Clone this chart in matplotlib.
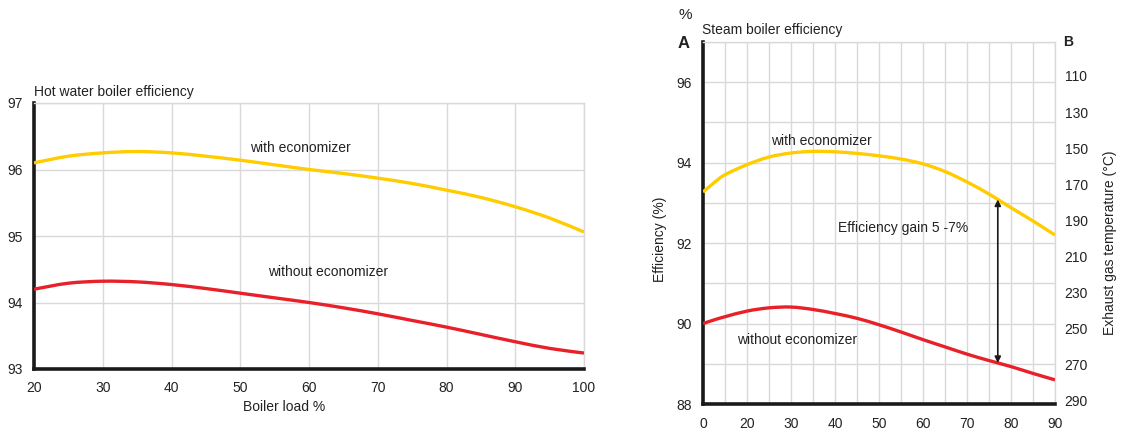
import numpy as np
import matplotlib
matplotlib.use("Agg")
import matplotlib.pyplot as plt
from matplotlib.path import Path
from matplotlib.patches import PathPatch
from matplotlib.transforms import IdentityTransform

plt.rcParams['font.family'] = ['Liberation Sans', 'DejaVu Sans']
plt.rcParams['font.size'] = 10

# ---- Hot water boiler: efficiency vs boiler load ----
hw_load = [20, 25, 30, 35, 40, 45, 50, 55, 60, 65, 70, 75, 80, 85, 90, 95, 100]
hw_with_eco = [96.10, 96.20, 96.25, 96.27, 96.25, 96.20, 96.14, 96.07, 96.00,
               95.94, 95.87, 95.79, 95.69, 95.58, 95.44, 95.27, 95.06]
hw_without_eco = [94.20, 94.29, 94.32, 94.31, 94.27, 94.21, 94.14, 94.07, 94.00,
                  93.92, 93.83, 93.73, 93.63, 93.52, 93.41, 93.31, 93.24]
hw_xticks = [20, 30, 40, 50, 60, 70, 80, 90, 100]
hw_yticks = [93, 94, 95, 96, 97]

# ---- Steam boiler: efficiency vs load, with exhaust gas temperature scale ----
st_load = [0, 5, 10, 20, 25, 30, 35, 40, 45, 50, 55, 60, 65, 70, 75, 80, 85, 90]
st_with_eco = [93.27, 93.50, 93.70, 93.95, 94.14, 94.24, 94.28, 94.27, 94.23,
               94.17, 94.09, 93.97, 93.78, 93.52, 93.22, 92.88, 92.55, 92.20]
st_without_eco = [90.00, 90.09, 90.17, 90.31, 90.39, 90.41, 90.35, 90.25, 90.13,
                  89.97, 89.79, 89.60, 89.42, 89.24, 89.08, 88.93, 88.76, 88.60]
st_xticks = [0, 20, 30, 40, 50, 60, 70, 80, 90]
st_xgrid = [10, 25, 35, 45, 55, 65, 75, 85]
st_yticks = [88, 90, 92, 94, 96]
exhaust_temps = [110, 130, 150, 170, 190, 210, 230, 250, 270, 290]
gain_load = 77

YELLOW = '#FFCC00'
RED = '#E8202A'
GRID = '#d9d9d9'
TXT = '#222222'

fig = plt.figure(figsize=(11.22, 4.32), dpi=100)


def style_axes(ax):
    for side in ('left', 'bottom'):
        ax.spines[side].set_color('#1a1a1a')
        ax.spines[side].set_linewidth(2.6)
    for side in ('top', 'right'):
        ax.spines[side].set_color(GRID)
        ax.spines[side].set_linewidth(1.0)
    ax.tick_params(which='both', length=0, colors=TXT, labelsize=10)
    ax.grid(True, which='both', color=GRID, linewidth=1.0)
    ax.set_axisbelow(True)


def smooth_line(ax, x, y, color, lw=2.4):
    """Draw a smooth curve through the points (Catmull-Rom as cubic Beziers)."""
    pts = ax.transData.transform(np.column_stack([x, y]))
    ext = np.vstack([pts[0], pts, pts[-1]])
    verts = [pts[0]]
    codes = [Path.MOVETO]
    for i in range(1, len(ext) - 2):
        p0, p1, p2, p3 = ext[i - 1], ext[i], ext[i + 1], ext[i + 2]
        verts += [p1 + (p2 - p0) / 6.0, p2 - (p3 - p1) / 6.0, p2]
        codes += [Path.CURVE4] * 3
    patch = PathPatch(Path(verts, codes), fill=False, edgecolor=color, lw=lw,
                      transform=IdentityTransform(), capstyle='butt', zorder=3)
    patch.set_clip_box(ax.bbox)
    ax.add_artist(patch)


# Left panel
ax1 = fig.add_axes([34 / 1122, 1 - 369 / 432, 550 / 1122, 266 / 432])
ax1.set_xlim(20, 100)
ax1.set_ylim(93, 97)
ax1.set_xticks(hw_xticks)
ax1.set_yticks(hw_yticks)
style_axes(ax1)
ax1.tick_params(axis='x', pad=9)
ax1.tick_params(axis='y', pad=8)
smooth_line(ax1, hw_load, hw_with_eco, YELLOW)
smooth_line(ax1, hw_load, hw_without_eco, RED)
ax1.text(0.0, 1.015, 'Hot water boiler efficiency', transform=ax1.transAxes,
         ha='left', va='bottom', color=TXT)
fig.text(300 / 1122, 1 - 148 / 432, 'with economizer', ha='center', va='center', color=TXT)
fig.text(328 / 1122, 1 - 272 / 432, 'without economizer', ha='center', va='center', color=TXT)
fig.text(284 / 1122, 1 - 407 / 432, 'Boiler load %', ha='center', va='center', color=TXT)


# Right panel: load axis is compressed below 20 %
def fwd(x):
    x = np.asarray(x, dtype=float)
    return np.where(x <= 20, x / 10.0, (x - 10.0) / 5.0)


def inv(p):
    p = np.asarray(p, dtype=float)
    return np.where(p <= 2, p * 10.0, p * 5.0 + 10.0)


ax2 = fig.add_axes([703 / 1122, 1 - 404 / 432, 352 / 1122, 362 / 432])
ax2.set_xscale('function', functions=(fwd, inv))
ax2.set_xlim(0, 90)
ax2.set_ylim(88, 97)
ax2.set_xticks(st_xticks)
ax2.set_xticklabels([str(v) for v in st_xticks])
ax2.set_xticks(st_xgrid, minor=True)
ax2.set_xticklabels([], minor=True)
ax2.set_yticks(st_yticks)
ax2.set_yticks([89, 91, 93, 95, 97], minor=True)
ax2.set_yticklabels([], minor=True)
style_axes(ax2)
ax2.tick_params(axis='x', pad=9)
ax2.tick_params(axis='y', pad=8)
smooth_line(ax2, st_load, st_with_eco, YELLOW)
smooth_line(ax2, st_load, st_without_eco, RED)

top = np.interp(gain_load, st_load, st_with_eco)
bottom = np.interp(gain_load, st_load, st_without_eco)
ax2.annotate('', xy=(gain_load, top), xytext=(gain_load, bottom),
             arrowprops=dict(arrowstyle='<|-|>', color='#1a1a1a', lw=1.2,
                             mutation_scale=9, shrinkA=0, shrinkB=0))
fig.text(838 / 1122, 1 - 228 / 432, 'Efficiency gain 5 -7%', ha='left', va='center', color=TXT)
fig.text(821 / 1122, 1 - 141 / 432, 'with economizer', ha='center', va='center', color=TXT)
fig.text(797 / 1122, 1 - 340 / 432, 'without economizer', ha='center', va='center', color=TXT)

fig.text(702 / 1122, 1 - 30 / 432, 'Steam boiler efficiency', ha='left', va='center', color=TXT)
fig.text(685 / 1122, 1 - 15 / 432, '%', ha='center', va='center', color=TXT, fontsize=11)
fig.text(684 / 1122, 1 - 44 / 432, 'A', ha='center', va='center', color=TXT,
         fontsize=12, fontweight='bold')
fig.text(1068 / 1122, 1 - 42 / 432, 'B', ha='center', va='center', color=TXT,
         fontsize=10, fontweight='bold')
fig.text(660 / 1122, 1 - 239 / 432, 'Efficiency (%)', ha='center', va='center',
         rotation=90, color=TXT)

# Exhaust gas temperature scale on the right
ax3 = ax2.twinx()
ax3.set_ylim(291.7, 91.2)
ax3.set_yticks(exhaust_temps)
ax3.tick_params(axis='y', length=0, pad=7, colors=TXT, labelsize=10)
for s in ax3.spines.values():
    s.set_visible(False)
fig.text(1110 / 1122, 1 - 243 / 432, 'Exhaust gas temperature (°C)', ha='center',
         va='center', rotation=90, color=TXT)

fig.savefig('out.png', dpi=100)
